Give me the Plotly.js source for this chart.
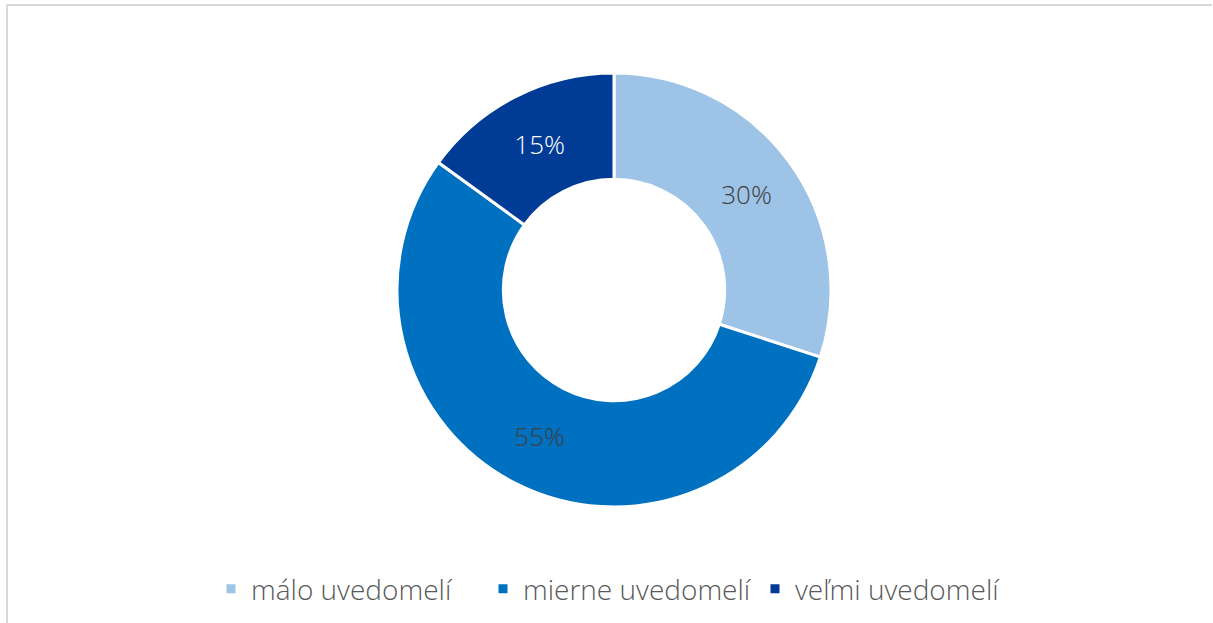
<!DOCTYPE html>
<html>
<head>
<meta charset="utf-8">
<script src="https://cdn.plot.ly/plotly-3.0.1.min.js"></script>
<style>
  html, body { margin: 0; padding: 0; background: #fff; }
  #chart { position: absolute; left: 0; top: 0; width: 1213px; height: 623px; }
  #frame { position: absolute; left: 6px; top: 4px; width: 1206px; height: 619px;
           border-top: 2px solid #D9D9D9; border-left: 2px solid #D9D9D9; box-sizing: border-box; pointer-events: none; }
</style>
</head>
<body>
<div id="chart"></div>
<div id="frame"></div>
<script>
const categories = ['málo uvedomelí', 'mierne uvedomelí', 'veľmi uvedomelí'];
const values = [30, 55, 15];
const sliceColors = ['#9DC3E6', '#0070C0', '#003B95'];
const labelColors = ['#404040', '#404040', '#FFFFFF'];

const W = 1213, H = 623;
const cx = 614, cy = 290, R = 217;

const data = [{
  type: 'pie',
  labels: categories,
  values: values,
  sort: false,
  direction: 'clockwise',
  rotation: 0,
  hole: 0.51,
  marker: { colors: sliceColors, line: { color: '#FFFFFF', width: 3 } },
  texttemplate: '%{percent:.0%}',
  textinfo: 'percent',
  textposition: 'inside',
  insidetextorientation: 'horizontal',
  textfont: { family: '"Open Sans", sans-serif', size: 26, weight: 300, color: labelColors },
  domain: {
    x: [(cx - R) / W, (cx + R) / W],
    y: [1 - (cy + R) / H, 1 - (cy - R) / H]
  },
  hoverinfo: 'label+percent'
}];

const layout = {
  width: W, height: H,
  margin: { l: 0, r: 0, t: 0, b: 0 },
  paper_bgcolor: '#FFFFFF',
  showlegend: true,
  legend: {
    orientation: 'h',
    x: 211 / W, xanchor: 'left',
    y: 1 - 589 / H, yanchor: 'middle',
    font: { family: '"Open Sans", sans-serif', size: 28, weight: 300, color: '#595959' },
    itemwidth: 30,
    entrywidth: 227,
    entrywidthmode: 'pixels',
    traceorder: 'normal'
  }
};

Plotly.newPlot('chart', data, layout, { displayModeBar: false, staticPlot: true });
</script>
</body>
</html>
